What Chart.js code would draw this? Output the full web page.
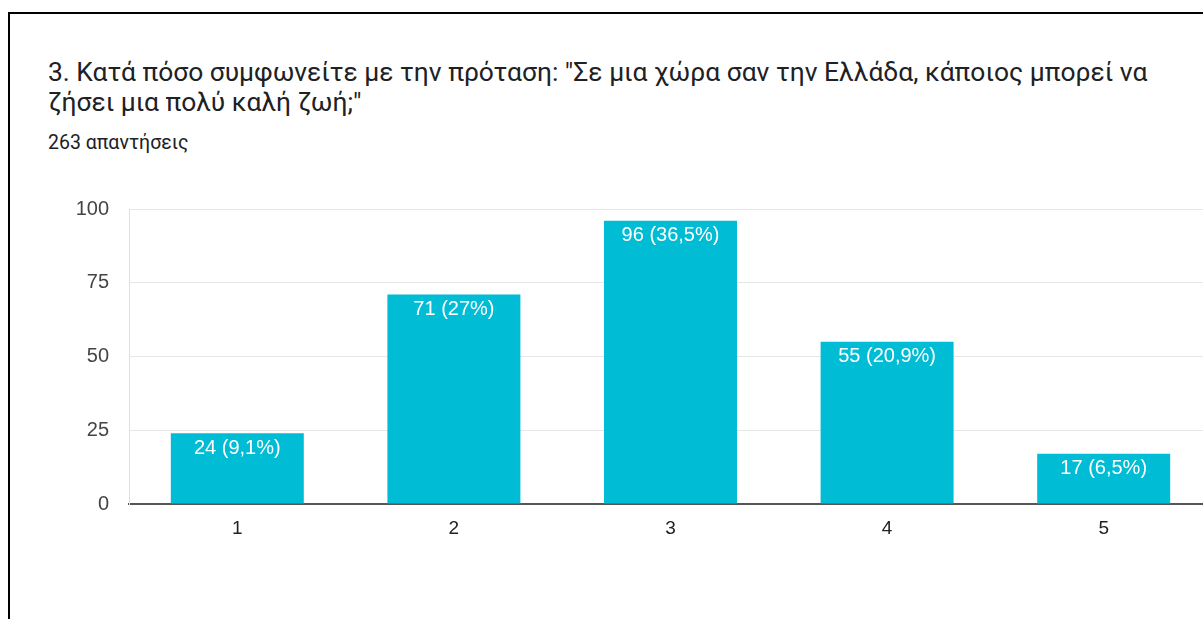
<!DOCTYPE html>
<html>
<head>
<meta charset="utf-8">
<script src="https://cdn.jsdelivr.net/npm/chart.js@4"></script>
<style>
  html, body { margin: 0; padding: 0; background: #fff; overflow: hidden; width: 1203px; height: 619px; }
  .frame { position: absolute; left: 8px; top: 12px; width: 1400px; height: 800px; border: 2px solid #000; }
  .title { position: absolute; left: 48px; top: 57px; font-family: Roboto, sans-serif; font-size: 26.4px; line-height: 30px; color: #202124; white-space: nowrap; }
  .count { position: absolute; left: 48px; top: 132px; font-family: Roboto, sans-serif; font-size: 19.5px; line-height: 22px; color: #202124; }
  .box { position: absolute; left: 0; top: 177px; }
</style>
</head>
<body>
<div class="frame"></div>
<div class="title">3. Κατά πόσο συμφωνείτε με την πρόταση: "Σε μια χώρα σαν την Ελλάδα, κάποιος μπορεί να<br>ζήσει μια πολύ καλή ζωή;"</div>
<div class="count">263 απαντήσεις</div>
<div class="box"><canvas id="myChart" width="1212" height="367"></canvas></div>
<script>
const categories = ["1", "2", "3", "4", "5"];
const answers = [24, 71, 96, 55, 17];
const percents = ["9,1", "27", "36,5", "20,9", "6,5"];
const yTicks = [0, 25, 50, 75, 100];

// writes "24 (9,1%)" inside the top of each bar
const barLabels = {
  id: "barLabels",
  afterDatasetsDraw(chart) {
    const ctx = chart.ctx;
    const meta = chart.getDatasetMeta(0);
    ctx.save();
    ctx.fillStyle = "#fff";
    ctx.font = "20px 'Liberation Sans', Arial, sans-serif";
    ctx.textAlign = "center";
    ctx.textBaseline = "middle";
    meta.data.forEach((bar, i) => {
      ctx.fillText(`${answers[i]} (${percents[i]}%)`, bar.x, bar.y + 15);
    });
    ctx.restore();
  },
};

const ctx = document.getElementById("myChart").getContext("2d");
const chart = new Chart(ctx, {
  type: "bar",
  data: {
    labels: categories,
    datasets: [
      {
        data: answers,
        backgroundColor: "#00bcd4",
        barPercentage: 0.614,
        categoryPercentage: 1,
      },
    ],
  },
  options: {
    responsive: false,
    animation: false,
    devicePixelRatio: 1,
    layout: { padding: 0 },
    plugins: { legend: { display: false }, tooltip: { enabled: false } },
    scales: {
      x: {
        grid: { display: false },
        border: { display: true, color: "#555", width: 2 },
        ticks: {
          color: "#222",
          padding: 5,
          font: { family: "'Liberation Sans', Arial, sans-serif", size: 19 },
        },
        afterFit: (scale) => { scale.height = 40; },
      },
      y: {
        min: 0,
        max: 100,
        afterBuildTicks: (scale) => { scale.ticks = yTicks.map((v) => ({ value: v })); },
        grid: { color: "#e6e6e6", lineWidth: 1, drawTicks: false },
        border: { display: true, color: "#e0e0e0", width: 1 },
        ticks: {
          color: "#444",
          padding: 20,
          font: { family: "'Liberation Sans', Arial, sans-serif", size: 20 },
        },
        afterFit: (scale) => { scale.width = 129; },
      },
    },
  },
  plugins: [barLabels],
});
</script>
</body>
</html>
